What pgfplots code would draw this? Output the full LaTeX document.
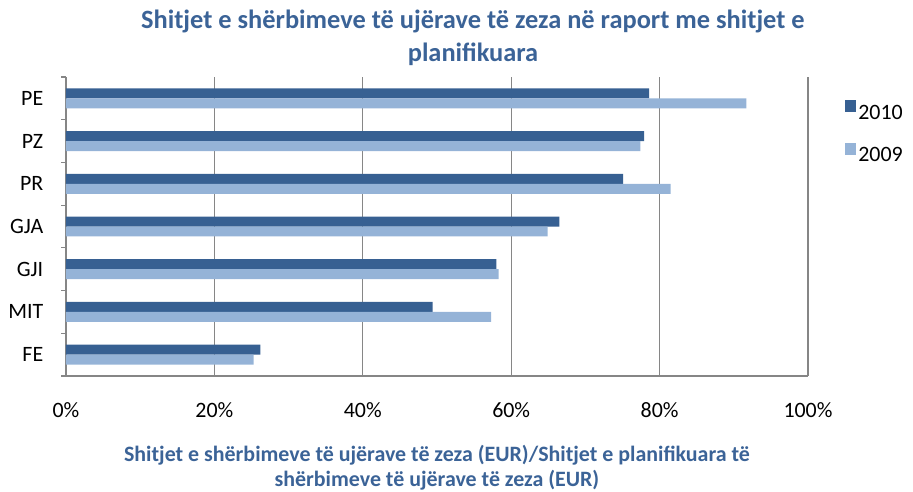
\documentclass[border=0pt]{standalone}
\usepackage{pgfplots}
\pgfplotsset{compat=1.18}
\usepackage{fontspec}
\setmainfont{Carlito}
\definecolor{dark}{HTML}{376092}
\definecolor{light}{HTML}{95B3D7}
\definecolor{titleblue}{HTML}{3B6397}
\definecolor{gridgray}{HTML}{868686}
\begin{document}
\begin{tikzpicture}
\useasboundingbox (-66bp,-116bp) rectangle (847bp,376bp);
\begin{axis}[
  at={(0bp,0bp)}, anchor=south west,
  scale only axis,
  width=742bp, height=299bp,
  xmin=0, xmax=100, ymin=-0.5, ymax=6.5,
  xbar, bar width=0.234,
  axis x line*=bottom, axis y line*=left,
  axis line style={gridgray, line width=1.2bp, -},
  xtick={0,20,...,100},
  xticklabel={\pgfmathprintnumber{\tick}\%},
  /pgf/number format/assume math mode=true,
  xmajorgrids, major grid style={gridgray, line width=1.2bp},
  major x tick style={draw=none},
  ytick={0,...,6},
  yticklabels={FE,MIT,GJI,GJA,PR,PZ,PE},
  major y tick style={draw=none},
  minor ytick={-0.5,0.5,...,6.5},
  minor y tick style={gridgray, line width=1.2bp},
  minor tick length=5bp,
  tick align=outside,
  ticklabel style={font=\fontsize{22}{26}\selectfont, text=black},
  yticklabel style={xshift=-15bp},
  xticklabel style={yshift=-19bp},
  xlabel={Shitjet e shërbimeve të ujërave të zeza (EUR)/Shitjet e planifikuara të\\shërbimeve të ujërave të zeza (EUR)},
  xlabel style={at={(rel axis cs:0.5,0)}, anchor=center, yshift=-91.5bp,
    align=center, font=\fontsize{22}{25}\selectfont\bfseries, text=titleblue},
  legend style={at={(1.05,0.923)}, anchor=north west, draw=none, fill=none,
    inner sep=0pt, font=\fontsize{22}{26}\selectfont, row sep=19.5bp,
    /tikz/every even column/.append style={column sep=11bp}},
  legend cell align=left,
  clip=false,
]
\addplot[fill=dark, draw=none, bar shift=0.117,
  legend image code/.code={\fill[dark] (0bp,1bp) rectangle (11bp,13bp);}]
  coordinates {(26.2,0) (49.4,1) (58.0,2) (66.5,3) (75.1,4) (77.9,5) (78.6,6)};
\addlegendentry{2010}
\addplot[fill=light, draw=none, bar shift=-0.117,
  legend image code/.code={\fill[light] (0bp,1bp) rectangle (11bp,13bp);}]
  coordinates {(25.3,0) (57.3,1) (58.3,2) (64.9,3) (81.5,4) (77.4,5) (91.7,6)};
\addlegendentry{2009}
\end{axis}
\node[align=center, font=\fontsize{26.5}{33}\selectfont\bfseries, text=titleblue]
  at (407bp,338bp) {Shitjet e shërbimeve të ujërave të zeza në raport me shitjet e\\planifikuara};
\end{tikzpicture}
\end{document}
